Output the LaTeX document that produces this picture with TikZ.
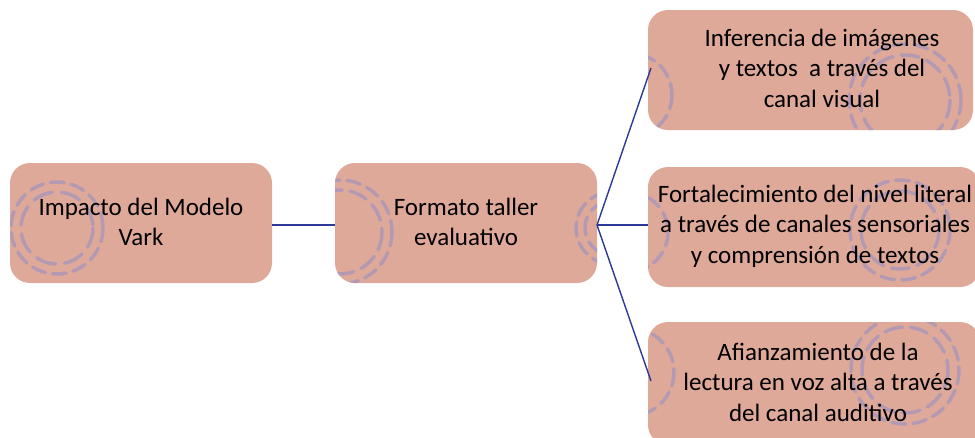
\documentclass[tikz,border=0pt]{standalone}
\usepackage{fontspec}
\setmainfont{Carlito}
\definecolor{boxfill}{HTML}{DFA99A}
\definecolor{swirl}{HTML}{A897B8}
\definecolor{linkcol}{HTML}{2B3A96}
\begin{document}
\begin{tikzpicture}[x=1pt,y=-1pt,
  card/.style={fill=boxfill,rounded corners=20pt,draw=none},
  lbl/.style={font=\fontsize{25}{30.5}\selectfont,align=center,text=black,inner sep=0pt},
  link/.style={draw=linkcol,line width=1.4pt},
  ring/.style={draw=swirl,line width=3.5pt,line cap=round,dash pattern=on 14pt off 7pt,opacity=0.8}]
\useasboundingbox (0,0) rectangle (975,437);
% boxes
\path[card] (10,163) rectangle (272,283);
\path[card] (335,163) rectangle (597,283);
\path[card] (648,10) rectangle (973,130);
\path[card] (648,167) rectangle (980,287);
\path[card] (648,322) rectangle (980,445);
% swirl decorations, clipped to boxes
\begin{scope}
\clip[rounded corners=20pt] (10,163) rectangle (272,283);
\draw[ring] (57,228) circle (46);
\draw[ring,dash pattern=on 20pt off 9pt] (57,228) circle (36);
\end{scope}
\begin{scope}
\clip[rounded corners=20pt] (335,163) rectangle (597,283);
\draw[ring] (340,232) circle (52);
\draw[ring,dash pattern=on 18pt off 8pt] (340,232) circle (42);
\draw[ring] (612,228) circle (36);
\draw[ring,dash pattern=on 18pt off 8pt] (612,228) circle (27);
\end{scope}
\begin{scope}
\clip[rounded corners=20pt] (648,10) rectangle (973,130);
\draw[ring] (905,100) circle (56);
\draw[ring,dash pattern=on 18pt off 8pt] (905,100) circle (45);
\draw[ring] (630,95) circle (42);
\end{scope}
\begin{scope}
\clip[rounded corners=20pt] (648,167) rectangle (980,287);
\draw[ring] (900,230) circle (50);
\draw[ring,dash pattern=on 18pt off 8pt] (900,230) circle (39);
\draw[ring] (628,232) circle (40);
\end{scope}
\begin{scope}
\clip[rounded corners=20pt] (648,322) rectangle (980,445);
\draw[ring] (905,370) circle (54);
\draw[ring,dash pattern=on 18pt off 8pt] (905,370) circle (43);
\draw[ring] (630,372) circle (44);
\end{scope}
% nodes
\node[lbl] (impact) at (141,222) {Impacto del Modelo\\Vark};
\node[lbl] (formato) at (466,222) {Formato taller\\evaluativo};
\node[lbl] (infer) at (822,68) {Inferencia de imágenes\\y textos\ \ a través del\\canal visual};
\node[lbl] (fortal) at (815,226) {Fortalecimiento del nivel literal\\a través de canales sensoriales\\y comprensión de textos};
\node[lbl] (afianz) at (818,382) {Afianzamiento de la\\lectura en voz alta a través\\del canal auditivo};
% anchors
\coordinate (impR) at (272,225);
\coordinate (forL) at (335,225);
\coordinate (forR) at (597,225);
\coordinate (infL) at (651,68);
\coordinate (fotL) at (648,225);
\coordinate (afiL) at (651,381);
\draw[link] (impR) -- (forL);
\draw[link] (forR) -- (infL);
\draw[link] (forR) -- (fotL);
\draw[link] (forR) -- (afiL);
\end{tikzpicture}
\end{document}
